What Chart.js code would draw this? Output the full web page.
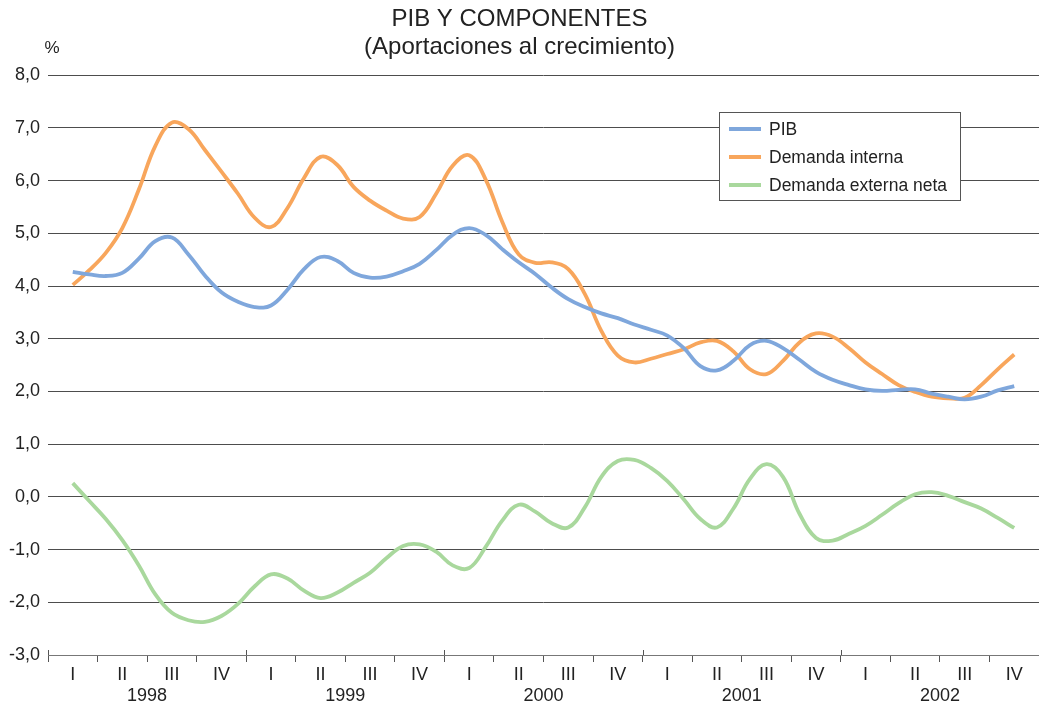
<!DOCTYPE html>
<html>
<head>
<meta charset="utf-8">
<script src="https://cdn.jsdelivr.net/npm/chart.js@4/dist/chart.umd.min.js"></script>
<style>
html,body{margin:0;padding:0;background:#fff;}
#wrap{position:relative;width:1039px;height:706px;}
</style>
</head>
<body>
<div id="wrap"><canvas id="c" width="1039" height="706"></canvas></div>
<script>
// Categories
const anios = ['1998', '1999', '2000', '2001', '2002'];
const trimestres = ['I', 'II', 'III', 'IV'];
const puntosPorTrimestre = 3; // monthly readings, 1998 I .. 2002 IV

// Series (% contribution to growth)
const pib = [4.27, 4.22, 4.19, 4.25, 4.52, 4.85, 4.92, 4.60, 4.20, 3.88,
             3.70, 3.60, 3.63, 3.93, 4.32, 4.55, 4.48, 4.25, 4.16, 4.18,
             4.28, 4.42, 4.68, 4.97, 5.10, 4.97, 4.70, 4.45, 4.23, 3.97,
             3.75, 3.60, 3.48, 3.39, 3.27, 3.17, 3.06, 2.82, 2.48, 2.40,
             2.58, 2.88, 2.96, 2.82, 2.60, 2.37, 2.22, 2.12, 2.04, 2.01,
             2.03, 2.04, 1.96, 1.90, 1.85, 1.90, 2.02, 2.10];
const demandaInterna = [4.02, 4.30, 4.63, 5.10, 5.83, 6.66, 7.10, 6.98, 6.58, 6.17,
             5.75, 5.30, 5.12, 5.48, 6.05, 6.45, 6.30, 5.88, 5.62, 5.43,
             5.28, 5.31, 5.75, 6.28, 6.48, 6.02, 5.22, 4.60, 4.44, 4.45,
             4.32, 3.85, 3.15, 2.68, 2.55, 2.62, 2.71, 2.80, 2.93, 2.96,
             2.76, 2.42, 2.33, 2.58, 2.93, 3.10, 3.04, 2.82, 2.55, 2.33,
             2.12, 1.99, 1.90, 1.87, 1.88, 2.12, 2.42, 2.70];
const demandaExterna = [0.26, -0.08, -0.42, -0.82, -1.30, -1.85, -2.20, -2.34, -2.37, -2.26,
             -2.03, -1.70, -1.47, -1.55, -1.78, -1.92, -1.82, -1.63, -1.44, -1.16,
             -0.93, -0.90, -1.04, -1.30, -1.35, -0.95, -0.45, -0.15, -0.28, -0.50,
             -0.58, -0.20, 0.38, 0.68, 0.70, 0.55, 0.30, -0.05, -0.42, -0.58,
             -0.22, 0.34, 0.62, 0.38, -0.32, -0.78, -0.83, -0.70, -0.55, -0.34,
             -0.12, 0.05, 0.09, 0.02, -0.10, -0.22, -0.40, -0.59];

// Y ticks
const yMin = -3, yMax = 8, yStep = 1;

const toPoints = arr => arr.map((v, i) => ({ x: i / puntosPorTrimestre, y: v }));
const nTrim = anios.length * trimestres.length;

const xTicks = [];
for (let i = 0; i < nTrim; i++) { xTicks.push(i - 0.5); xTicks.push(i); }
xTicks.push(nTrim - 0.5);

const font = 'Liberation Sans, Arial, Helvetica, sans-serif';
const series = [
  { label: 'PIB', data: pib, color: '#7fa7dc' },
  { label: 'Demanda interna', data: demandaInterna, color: '#f8a65c' },
  { label: 'Demanda externa neta', data: demandaExterna, color: '#a9d89d' }
];

const extras = {
  id: 'extras',
  afterDraw(chart) {
    const ctx = chart.ctx;
    const xs = chart.scales.x;
    const bottom = chart.chartArea.bottom;
    ctx.save();
    // year separators crossing the axis
    ctx.strokeStyle = '#555';
    ctx.lineWidth = 1;
    for (let y = 0; y <= anios.length; y++) {
      const px = Math.round(xs.getPixelForValue(y * 4 - 0.5)) + 0.5;
      ctx.beginPath();
      ctx.moveTo(px, bottom - 5);
      ctx.lineTo(px, bottom);
      ctx.stroke();
    }
    // % unit
    ctx.fillStyle = '#222';
    ctx.font = '17px ' + font;
    ctx.textAlign = 'center';
    ctx.textBaseline = 'middle';
    ctx.fillText('%', 52, 48);
    // legend box
    const lx = 719.5, ly = 112.5, lw = 241, lh = 88;
    ctx.fillStyle = '#fff';
    ctx.fillRect(lx, ly, lw, lh);
    ctx.strokeStyle = '#555';
    ctx.strokeRect(lx, ly, lw, lh);
    ctx.font = '17.5px ' + font;
    ctx.textAlign = 'left';
    chart.data.datasets.forEach((ds, i) => {
      const cy = 129 + i * 28;
      ctx.strokeStyle = ds.borderColor;
      ctx.lineWidth = 4;
      ctx.beginPath();
      ctx.moveTo(729, cy);
      ctx.lineTo(761, cy);
      ctx.stroke();
      ctx.fillStyle = '#222';
      ctx.fillText(ds.label, 769, cy + 1);
    });
    ctx.restore();
  }
};

new Chart(document.getElementById('c'), {
  type: 'line',
  data: {
    datasets: series.map(s => ({
      label: s.label,
      data: toPoints(s.data),
      borderColor: s.color,
      backgroundColor: s.color,
      borderWidth: 3.8,
      pointRadius: 0,
      tension: 0.4,
      fill: false
    }))
  },
  plugins: [extras],
  options: {
    responsive: false,
    animation: false,
    layout: { padding: 0 },
    plugins: {
      legend: { display: false },
      tooltip: { enabled: false },
      title: {
        display: true,
        text: ['PIB Y COMPONENTES', '(Aportaciones al crecimiento)'],
        color: '#222',
        font: { family: font, size: 24, weight: 'normal', lineHeight: 1.17 },
        padding: { top: 5.5, bottom: 13.5 }
      }
    },
    scales: {
      x: {
        type: 'linear',
        min: -0.5,
        max: nTrim - 0.5,
        afterBuildTicks: scale => { scale.ticks = xTicks.map(v => ({ value: v })); },
        afterFit: scale => { scale.height = 51; scale.paddingLeft = 0; scale.paddingRight = 0; },
        border: { display: true, color: '#777', width: 1 },
        grid: {
          drawOnChartArea: false,
          drawTicks: true,
          tickLength: 7,
          color: c => (Number.isInteger(c.tick.value) ? 'rgba(0,0,0,0)' : '#555')
        },
        ticks: {
          autoSkip: false,
          maxRotation: 0,
          padding: 2,
          color: '#222',
          font: { family: font, size: 18, lineHeight: 1.2 },
          callback: v => {
            if (Number.isInteger(v)) return trimestres[((v % 4) + 4) % 4];
            if ((v + 0.5) % 4 === 2) return ['', anios[Math.floor(v / 4)]];
            return '';
          }
        }
      },
      y: {
        min: yMin,
        max: yMax,
        afterFit: scale => { scale.width = 48; },
        border: { display: false },
        grid: { color: '#4d4d4d', lineWidth: 1, drawTicks: false },
        ticks: {
          stepSize: yStep,
          padding: 8,
          color: '#222',
          font: { family: font, size: 18 },
          callback: v => v.toFixed(1).replace('.', ',')
        }
      }
    }
  }
});
</script>
</body>
</html>
